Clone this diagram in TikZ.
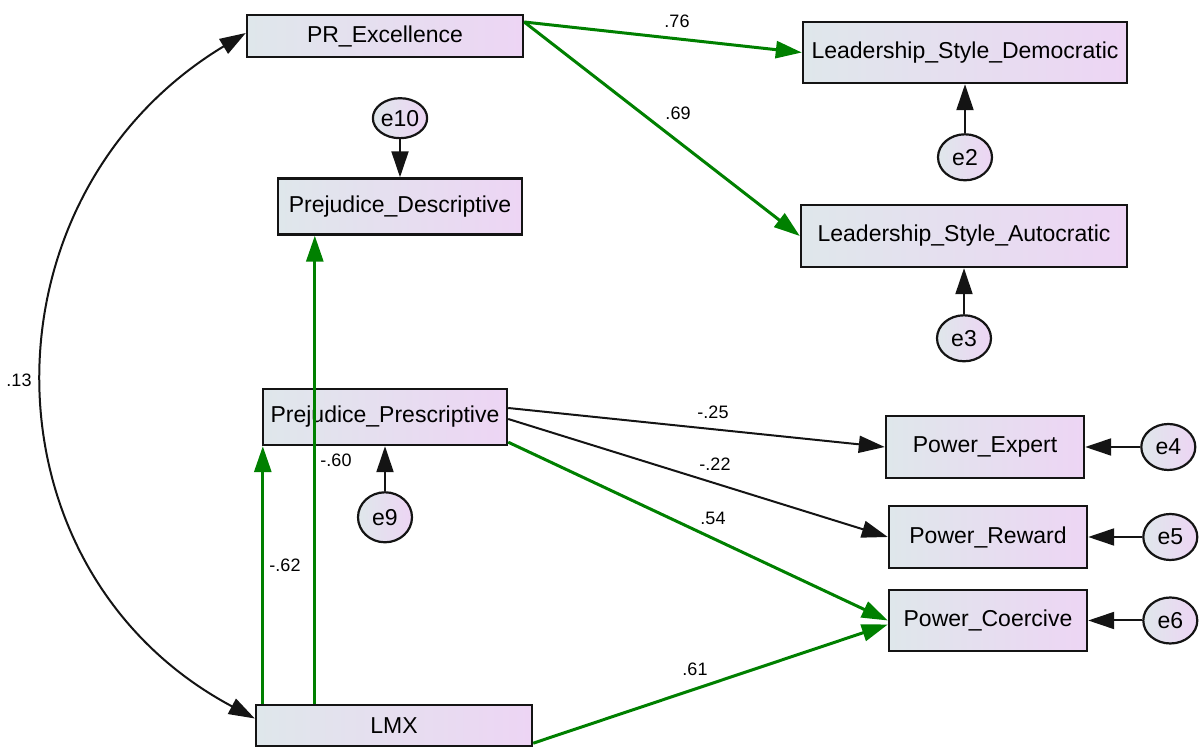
\documentclass[tikz,border=0pt]{standalone}
\usepackage{fontspec}
\setmainfont{Liberation Sans}
\usetikzlibrary{arrows.meta, positioning, shapes.geometric}
\definecolor{boxleft}{HTML}{DFE7EB}
\definecolor{boxright}{HTML}{EDD5F4}
\definecolor{pathgreen}{HTML}{008000}
\definecolor{ink}{HTML}{141414}

\begin{document}
\begin{tikzpicture}[
  x=0.5pt, y=-0.5pt,
  var/.style={draw=ink, line width=1.2pt, left color=boxleft, right color=boxright, inner sep=0pt, font=\fontsize{11.5}{13}\selectfont},
  err/.style={ellipse, draw=ink, line width=1.1pt, left color=boxleft, right color=boxright, minimum width=27pt, minimum height=23pt, inner sep=0pt, font=\fontsize{11.5}{13}\selectfont},
  grn/.style={-{Triangle[length=13pt, width=8.5pt]}, line width=1.5pt, color=pathgreen},
  blk/.style={-{Triangle[length=13pt, width=8.5pt]}, line width=1pt, color=ink},
  errarrow/.style={-{Triangle[length=13pt, width=8.5pt]}, line width=1pt, color=ink},
  cov/.style={{Triangle[length=13pt, width=8.5pt]}-{Triangle[length=13pt, width=8.5pt]}, line width=1pt, color=ink},
  lbl/.style={font=\fontsize{9}{10}\selectfont, inner sep=0pt}
]
  \useasboundingbox (0,0) rectangle (1200,747);

  % observed variables
  \node[var, minimum width=138pt, minimum height=21pt] (pr) at (385,36) {PR\_Excellence};
  \node[var, minimum width=162pt, minimum height=30.5pt] (lsd) at (965,52.5) {Leadership\_Style\_Democratic};
  \node[var, minimum width=122pt, minimum height=28pt] (pd) at (400,206.5) {Prejudice\_Descriptive};
  \node[var, minimum width=163pt, minimum height=31pt] (lsa) at (964,236) {Leadership\_Style\_Autocratic};
  \node[var, minimum width=122pt, minimum height=28pt] (pp) at (385,417) {Prejudice\_Prescriptive};
  \node[var, minimum width=99pt, minimum height=31pt] (pe) at (985,447) {Power\_Expert};
  \node[var, minimum width=99pt, minimum height=31pt] (prw) at (988,537) {Power\_Reward};
  \node[var, minimum width=99pt, minimum height=30.5pt] (pc) at (988,620.5) {Power\_Coercive};
  \node[var, minimum width=138pt, minimum height=20.5pt] (lmx) at (394,725.5) {LMX};

  % error terms
  \node[err, below=24.5pt of lsd] (e2) {e2};
  \node[err, minimum height=20pt, above=19pt of pd] (e10) {e10};
  \node[err, below=23pt of lsa] (e3) {e3};
  \node[err, minimum height=25pt, below=22.5pt of pp] (e9) {e9};
  \node[err, right=27.5pt of pe] (e4) {e4};
  \node[err, right=27pt of prw] (e5) {e5};
  \node[err, right=27pt of pc] (e6) {e6};

  \coordinate (lmxA) at ([xshift=4pt]lmx.north west);
  \coordinate (lmxB) at ([xshift=30pt]lmx.north west);

  % paths
  \draw[grn] ([yshift=7pt]pr.east) -- (lsd.west);
  \draw[grn] ([yshift=7pt]pr.east) -- (lsa.west);
  \draw[grn] (lmxA) -- (lmxA |- pp.south);
  \draw[grn] (lmxB) -- (lmxB |- pd.south);
  \draw[blk] ([yshift=4.5pt]pp.east) -- (pe.west);
  \draw[blk] ([yshift=-1pt]pp.east) -- (prw.west);
  \draw[grn] ([yshift=2pt]pp.south east) -- (pc.west);
  \draw[grn] ([yshift=2pt]lmx.south east) -- ([yshift=-2pt]pc.west);
  \draw[cov] ([yshift=1.5pt]pr.west) .. controls +(-135pt,-81.5pt) and +(-139pt,74pt) .. ([yshift=3.5pt]lmx.west);

  \draw[errarrow] (e2) -- (lsd);
  \draw[errarrow] (e10) -- (pd);
  \draw[errarrow] (e3) -- (lsa);
  \draw[errarrow] (e9) -- (pp);
  \draw[errarrow] (e4) -- (pe);
  \draw[errarrow] (e5) -- (prw);
  \draw[errarrow] (e6) -- (pc);

  % estimates
  \node[lbl] (w76) at (677,21) {.76};
  \node[lbl] (w69) at (678,113) {.69};
  \node[lbl] (w25) at (713,412) {-.25};
  \node[lbl] (w22) at (715,464) {-.22};
  \node[lbl] (w54) at (713,518) {.54};
  \node[lbl] (w61) at (695,669) {.61};
  \node[lbl] (w62) at (285,565) {-.62};
  \node[lbl] (w60) at (336,460) {-.60};
  \node[lbl] (w13) at (19,380) {.13};
\end{tikzpicture}
\end{document}
